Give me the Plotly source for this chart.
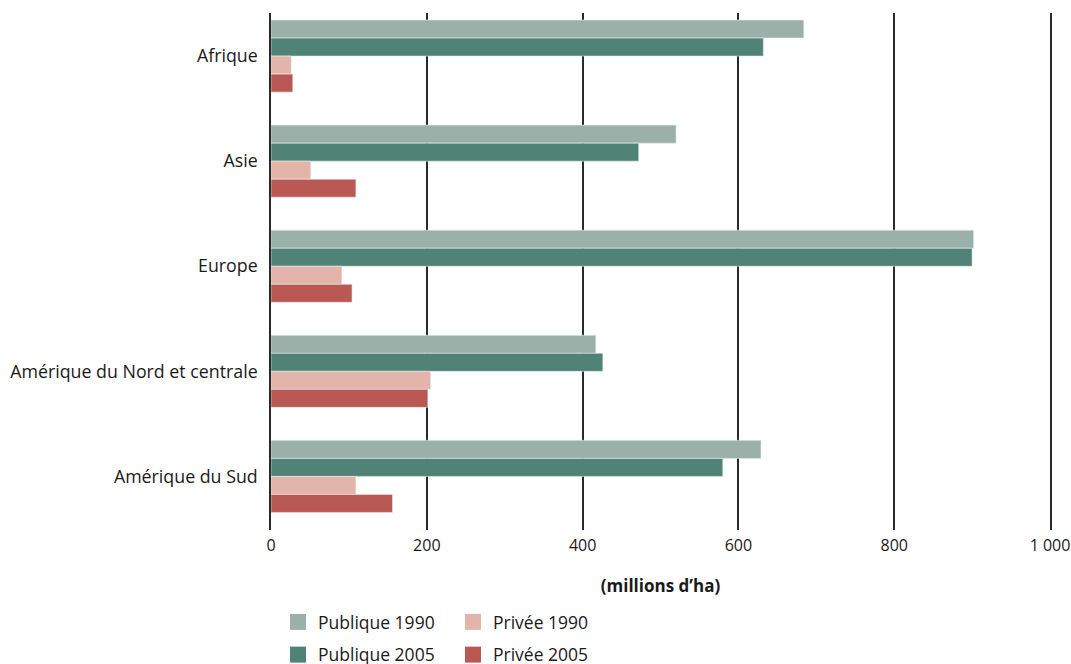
import plotly.graph_objects as go

regions = ["Afrique", "Asie", "Europe", "Amérique du Nord et centrale", "Amérique du Sud"]
publique_1990 = [684, 520, 902, 417, 629]
publique_2005 = [632, 472, 900, 426, 580]
privee_1990 = [26, 51, 91, 205, 109]
privee_2005 = [28, 109, 104, 201, 156]

x_ticks = [0, 200, 400, 600, 800, 1000]
x_tick_labels = ["0", "200", "400", "600", "800", "1 000"]

COLORS = {
    "pub90": "#9ab0a8",
    "pub05": "#508275",
    "priv90": "#e2b4aa",
    "priv05": "#ba5853",
}
GRID = "#2a2a2a"
FONT = "Open Sans, Arial, sans-serif"

W, H = 1071, 664

series = [
    ("Publique 1990", publique_1990, COLORS["pub90"], "legend"),
    ("Publique 2005", publique_2005, COLORS["pub05"], "legend"),
    ("Privée 1990", privee_1990, COLORS["priv90"], "legend2"),
    ("Privée 2005", privee_2005, COLORS["priv05"], "legend2"),
]

fig = go.Figure()

# barres (legende geree par des traces a part)
for name, vals, color, _ in series:
    fig.add_trace(go.Bar(
        y=regions, x=vals, name=name, orientation="h",
        marker=dict(color=color, line=dict(color="#e8eeec", width=0.6)),
        showlegend=False,
        hovertemplate=name + "<br>%{y}: %{x}<extra></extra>",
    ))

# entrees de legende avec de gros carres
for name, _, color, leg in series:
    fig.add_trace(go.Scatter(
        x=[None], y=[None], mode="markers", name=name, legend=leg,
        legendgroup=name,
        marker=dict(symbol="square", size=20, color=color),
    ))

legend_common = dict(
    yref="container", y=1 - 604 / H, yanchor="top",
    xanchor="left", orientation="v", tracegroupgap=7,
    font=dict(size=17.5), bgcolor="rgba(0,0,0,0)",
)

fig.update_layout(
    barmode="group",
    bargap=0.314,
    bargroupgap=0,
    width=W, height=H,
    plot_bgcolor="white", paper_bgcolor="white",
    font=dict(family=FONT, color="#1a1a1a", size=16),
    margin=dict(l=271, r=21, t=13, b=134, autoexpand=False),
    xaxis=dict(
        range=[0, 1000],
        tickvals=x_ticks, ticktext=x_tick_labels,
        showgrid=True, gridcolor=GRID, gridwidth=1.5,
        zeroline=False, showline=False, automargin=False,
        ticklabelstandoff=4,
        tickfont=dict(size=16),
        title=dict(text="<b>(millions d’ha)</b>", font=dict(size=17), standoff=25),
    ),
    yaxis=dict(
        categoryorder="array", categoryarray=regions,
        range=[4.51, -0.41],
        showgrid=False, zeroline=False, automargin=False,
        # traits verticaux a 0 et 1000
        showline=True, mirror=True, linecolor=GRID, linewidth=1.5,
        ticks="", ticklabelstandoff=8,
        tickfont=dict(size=17.8),
    ),
    legend=dict(x=(278 - 271) / 779, **legend_common),
    legend2=dict(x=(453 - 271) / 779, **legend_common),
)

# pas de marge de page autour de la figure, pas de barre d'outils
fig.write_html(
    "out.html",
    config={"displayModeBar": False},
    post_script="document.body.style.margin = '0';",
)
